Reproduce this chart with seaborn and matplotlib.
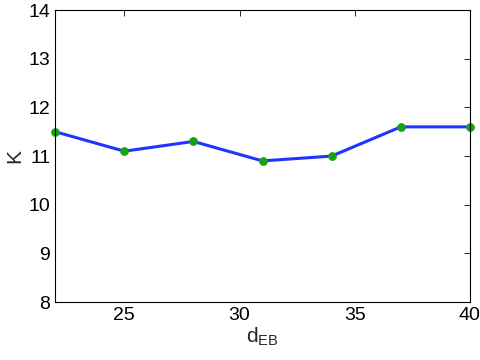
import pandas as pd
import seaborn as sns
import matplotlib
matplotlib.use('Agg')
import matplotlib.pyplot as plt

# Valores
d_eb = [22, 25, 28, 31, 34, 37, 40]
k_vals = [11.5, 11.1, 11.3, 10.9, 11.0, 11.6, 11.6]

df = pd.DataFrame({'d_EB': d_eb, 'K': k_vals})

sns.set_style('white')
plt.rcParams['font.family'] = ['Liberation Sans', 'DejaVu Sans']

fig = plt.figure(figsize=(4.8, 3.6), dpi=100)
ax = fig.add_axes([0.115, 0.161, 0.864, 0.811])

sns.lineplot(data=df, x='d_EB', y='K', ax=ax, color='#1f35ff', linewidth=2.2,
             marker='o', markersize=5.5, markerfacecolor='#19a015',
             markeredgecolor='#19a015', clip_on=False)

ax.set_xlim(22, 40)
ax.set_ylim(8, 14)
ax.set_xticks([25, 30, 35, 40])
ax.set_yticks([8, 9, 10, 11, 12, 13, 14])
ax.tick_params(direction='in', top=True, right=True, labelsize=14,
               length=4, width=0.6, colors='black')
for s in ax.spines.values():
    s.set_linewidth(0.8)
    s.set_color('black')
ax.set_xlabel('d$_{\\mathregular{EB}}$', fontsize=15, labelpad=1)
ax.set_ylabel('K', fontsize=15, labelpad=3)

fig.savefig('out.png', dpi=100)
